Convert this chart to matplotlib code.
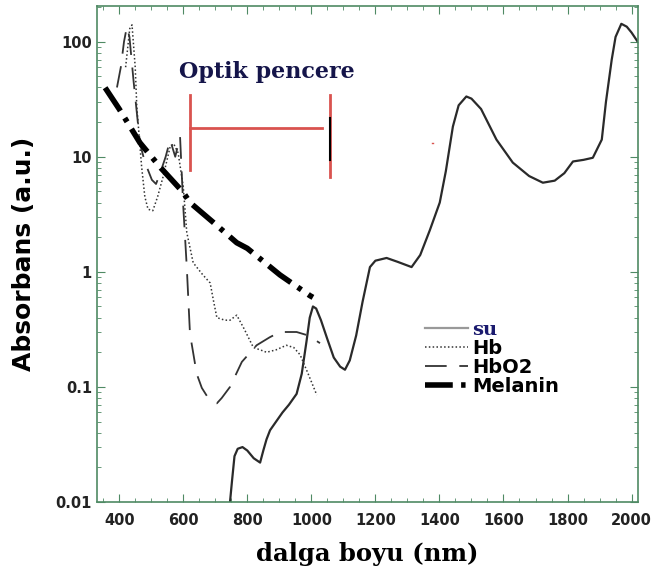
import numpy as np
import matplotlib.pyplot as plt
from matplotlib.ticker import MultipleLocator, FixedLocator, NullFormatter

# su (water)
su_x = [746, 752, 760, 770, 785, 800, 820, 840, 850, 860, 871, 890, 910, 930, 954, 970, 985,
        995, 1005, 1015, 1030, 1050, 1070, 1090, 1105, 1120, 1140, 1160, 1183, 1200, 1235,
        1270, 1313, 1340, 1370, 1401, 1420, 1442, 1460, 1484, 1500, 1530, 1578, 1629, 1680,
        1723, 1760, 1790, 1817, 1850, 1879, 1907, 1920, 1938, 1950, 1968, 1985, 2000, 2019]
su_y = [0.010, 0.015, 0.025, 0.029, 0.030, 0.028, 0.024, 0.022, 0.028, 0.035, 0.042, 0.050, 0.060,
        0.070, 0.087, 0.13, 0.25, 0.40, 0.50, 0.48, 0.38, 0.26, 0.18, 0.15, 0.141, 0.17, 0.28,
        0.55, 1.1, 1.25, 1.32, 1.22, 1.10, 1.4, 2.3, 4.0, 7.5, 18.3, 28, 33.4, 32, 26, 14.1,
        8.9, 6.8, 5.95, 6.2, 7.2, 9.1, 9.4, 9.8, 14.1, 30, 69.8, 110, 143, 135, 120, 100]

# Hb
hb_x = [420, 433, 440, 450, 455, 470, 480, 490, 505, 520, 537, 559, 570, 584, 600, 611, 631,
        660, 684, 695, 705, 730, 746, 767, 790, 819, 840, 860, 890, 922, 945, 965, 990, 1017]
hb_y = [60, 130, 140, 60, 27, 8.2, 4.5, 3.5, 3.4, 4.5, 6.7, 12.2, 13, 10.8, 5.5, 2.2, 1.2,
        0.95, 0.80, 0.55, 0.40, 0.38, 0.38, 0.42, 0.32, 0.22, 0.21, 0.20, 0.21, 0.23, 0.22,
        0.19, 0.13, 0.085]

# HbO2
hbo2_x = [393, 405, 415, 424, 432, 445, 465, 480, 502, 515, 530, 545, 559, 575, 590, 600, 611,
          621, 642, 658, 678, 705, 720, 746, 783, 829, 870, 902, 954, 990, 1027]
hbo2_y = [40, 60, 100, 135, 110, 45, 13, 9, 6.3, 5.8, 7.5, 10, 14, 10, 15, 3.7, 1.1,
          0.29, 0.13, 0.098, 0.080, 0.072, 0.080, 0.10, 0.165, 0.23, 0.27, 0.30, 0.30, 0.28, 0.24]

# Melanin
mel_x = [356, 400, 465, 530, 600, 621, 700, 767, 800, 902, 996, 1005]
mel_y = [39.8, 26, 13.2, 8.0, 4.9, 4.0, 2.6, 1.79, 1.6, 0.94, 0.62, 0.60]

x_ticks = [400, 600, 800, 1000, 1200, 1400, 1600, 1800, 2000]
y_ticks = [0.01, 0.1, 1, 10, 100]
y_tick_labels = ['0.01', '0.1', '1', '10', '100']

axis_col = '#4f8a64'

fig = plt.figure(figsize=(6.54, 5.81), dpi=100)
ax = fig.add_axes([0.148, 0.136, 0.8275, 0.854])

ax.plot(su_x, su_y, color='#2a2a2a', lw=1.6, label='su')
ax.plot(hb_x, hb_y, color='#333333', lw=1.1, ls=(0, (1, 1.5)), label='Hb')
ax.plot(hbo2_x, hbo2_y, color='#333333', lw=1.3, ls=(0, (12, 7)), label='HbO2')
ax.plot(mel_x, mel_y, color='black', lw=4, ls=(0, (5, 1.5, 0.8, 1.5)), label='Melanin')

# optik pencere bracket
ax.plot([621, 621], [7.7, 34.6], color='#d9534f', lw=2)
ax.plot([621, 1033], [17.9, 17.9], color='#d9534f', lw=2)
ax.plot([1058, 1058], [6.7, 34.6], color='#d9534f', lw=2)
ax.plot([1058, 1058], [9.4, 21.8], color='black', lw=1.5)
ax.plot([1377, 1381], [13.2, 13.2], color='#d9534f', lw=1)
ax.text(860, 54, 'Optik pencere', ha='center', va='center', fontsize=16,
        family='DejaVu Serif', weight='bold', color='#15154a')

ax.set_yscale('log')
ax.set_xlim(330, 2020)
ax.set_ylim(0.01, 205)
ax.xaxis.set_major_locator(FixedLocator(x_ticks))
ax.xaxis.set_minor_locator(MultipleLocator(50))
ax.yaxis.set_major_locator(FixedLocator(y_ticks))
ax.set_yticklabels(y_tick_labels)
ax.yaxis.set_minor_formatter(NullFormatter())

for s in ax.spines.values():
    s.set_color(axis_col)
    s.set_linewidth(1.2)
ax.tick_params(which='both', direction='in', top=True, right=True, color=axis_col)
ax.tick_params(which='major', length=6, labelsize=10.5)
ax.tick_params(which='minor', length=3)
ax.tick_params(axis='x', pad=8)
for lab in ax.get_xticklabels() + ax.get_yticklabels():
    lab.set_fontweight('bold')
    lab.set_color('#222222')

ax.set_xlabel('dalga boyu (nm)', family='DejaVu Serif', weight='bold', fontsize=17.5, labelpad=10)
ax.set_ylabel('Absorbans (a.u.)', weight='bold', fontsize=18, labelpad=14)

leg = ax.legend(loc='upper left', bbox_to_anchor=(0.575, 0.40), frameon=False,
                handlelength=2.2, handletextpad=0.2, labelspacing=0.0, fontsize=14)
for t in leg.get_texts():
    t.set_fontweight('bold')
leg.get_texts()[0].set_family('DejaVu Serif')
leg.get_texts()[0].set_color('#1a1a6e')
leg.get_lines()[0].set_color('#999999')

fig.savefig('out.png', dpi=100)
